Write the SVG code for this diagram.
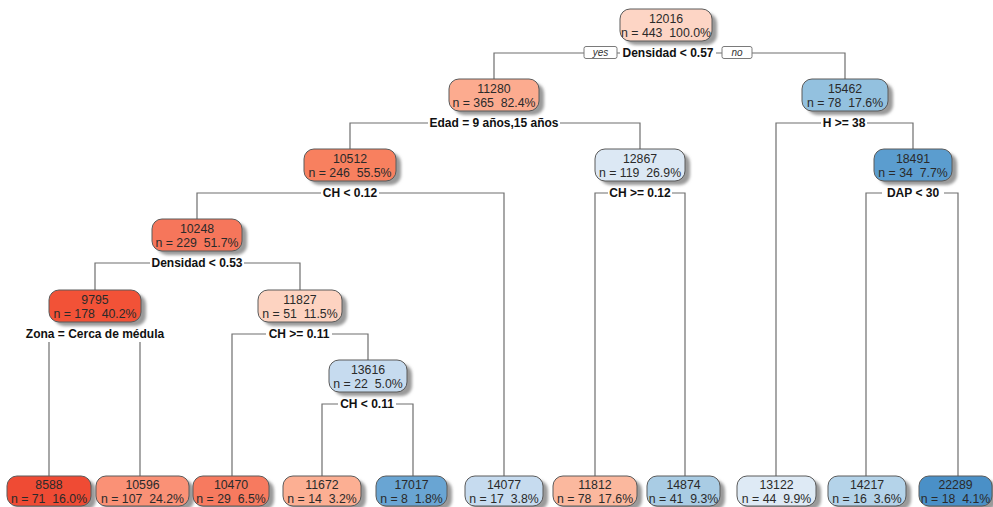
<svg xmlns="http://www.w3.org/2000/svg" width="993" height="507" viewBox="0 0 993 507">
<defs>
<filter id="blur" x="-20%" y="-20%" width="140%" height="140%"><feGaussianBlur stdDeviation="1.6"/></filter>
</defs>
<style>
.sh{fill:#9a9a9a;filter:url(#blur)}
.box{stroke:#5a5a5a;stroke-width:1}
.v,.n{font-family:"Liberation Sans",Arial,sans-serif;font-size:12.3px;fill:#2a2a2a;text-anchor:middle;white-space:pre}
.edge{fill:none;stroke:#6e6e6e;stroke-width:1.2}
.lb{fill:#ffffff}
.lt{font-family:"Liberation Sans",Arial,sans-serif;font-size:12px;font-weight:bold;fill:#111;text-anchor:middle}
.yn{fill:#fff;stroke:#7a7a7a;stroke-width:1}
.ynt{font-family:"Liberation Sans",Arial,sans-serif;font-size:10px;font-style:italic;fill:#333;text-anchor:middle}
</style>
<rect width="993" height="507" fill="#ffffff"/>
<g id="connectors">
<path class="edge" d="M494 79V53H845V79"/>
<path class="edge" d="M350 149V123H640V149"/>
<path class="edge" d="M776 476V123H913V149"/>
<path class="edge" d="M197 219V193H504V476"/>
<path class="edge" d="M595 476V193H685V476"/>
<path class="edge" d="M866 476V193H958V476"/>
<path class="edge" d="M95 290V263H300V290"/>
<path class="edge" d="M49 476V334H140V476"/>
<path class="edge" d="M232 476V334H368V360"/>
<path class="edge" d="M322 476V404H413V476"/>
<rect class="yn" x="584" y="46.5" width="33" height="12" rx="2"/>
<text class="ynt" x="600.5" y="56">yes</text>
<rect class="yn" x="722" y="46.5" width="30" height="12" rx="2"/>
<text class="ynt" x="737" y="56">no</text>
</g>
<g id="splits">
<rect class="lb" x="620" y="45" width="96" height="16"/><text class="lt" x="668" y="57">Densidad &lt; 0.57</text>
<rect class="lb" x="428" y="115" width="132" height="16"/><text class="lt" x="494" y="127">Edad = 9 años,15 años</text>
<rect class="lb" x="821" y="115" width="46" height="16"/><text class="lt" x="844" y="127">H &gt;= 38</text>
<rect class="lb" x="321" y="185" width="58" height="16"/><text class="lt" x="350" y="197">CH &lt; 0.12</text>
<rect class="lb" x="608" y="185" width="64" height="16"/><text class="lt" x="640" y="197">CH &gt;= 0.12</text>
<rect class="lb" x="882" y="185" width="62" height="16"/><text class="lt" x="913" y="197">DAP &lt; 30</text>
<rect class="lb" x="150" y="255" width="94" height="16"/><text class="lt" x="197" y="267">Densidad &lt; 0.53</text>
<rect class="lb" x="25" y="326" width="140" height="16"/><text class="lt" x="95" y="338">Zona = Cerca de médula</text>
<rect class="lb" x="266" y="326" width="66" height="16"/><text class="lt" x="299" y="338">CH &gt;= 0.11</text>
<rect class="lb" x="338" y="396" width="58" height="16"/><text class="lt" x="367" y="408">CH &lt; 0.11</text>
</g>
<g id="node-12016"><rect class="sh" x="625" y="13" width="92" height="32" rx="10"/><rect class="box" x="620" y="9" width="92" height="32" rx="10" fill="#fdd5c5"/><text class="v" x="666" y="23">12016</text><text class="n" x="666" y="37">n = 443  100.0%</text></g>
<g id="node-11280"><rect class="sh" x="454" y="83" width="90" height="32" rx="10"/><rect class="box" x="449" y="79" width="90" height="32" rx="10" fill="#fcab8f"/><text class="v" x="494" y="93">11280</text><text class="n" x="494" y="107">n = 365  82.4%</text></g>
<g id="node-15462"><rect class="sh" x="807" y="83" width="86" height="32" rx="10"/><rect class="box" x="802" y="79" width="86" height="32" rx="10" fill="#93c1df"/><text class="v" x="845" y="93">15462</text><text class="n" x="845" y="107">n = 78  17.6%</text></g>
<g id="node-10512"><rect class="sh" x="309" y="153" width="92" height="32" rx="10"/><rect class="box" x="304" y="149" width="92" height="32" rx="10" fill="#f8805f"/><text class="v" x="350" y="163">10512</text><text class="n" x="350" y="177">n = 246  55.5%</text></g>
<g id="node-12867"><rect class="sh" x="600" y="153" width="90" height="32" rx="10"/><rect class="box" x="595" y="149" width="90" height="32" rx="10" fill="#dce8f4"/><text class="v" x="640" y="163">12867</text><text class="n" x="640" y="177">n = 119  26.9%</text></g>
<g id="node-18491"><rect class="sh" x="879" y="153" width="78" height="32" rx="10"/><rect class="box" x="874" y="149" width="78" height="32" rx="10" fill="#5b9dcf"/><text class="v" x="913" y="163">18491</text><text class="n" x="913" y="177">n = 34  7.7%</text></g>
<g id="node-10248"><rect class="sh" x="157" y="223" width="90" height="32" rx="10"/><rect class="box" x="152" y="219" width="90" height="32" rx="10" fill="#f6765b"/><text class="v" x="197" y="233">10248</text><text class="n" x="197" y="247">n = 229  51.7%</text></g>
<g id="node-9795"><rect class="sh" x="54" y="294" width="92" height="32" rx="10"/><rect class="box" x="49" y="290" width="92" height="32" rx="10" fill="#f25237"/><text class="v" x="95" y="304">9795</text><text class="n" x="95" y="318">n = 178  40.2%</text></g>
<g id="node-11827"><rect class="sh" x="263" y="294" width="84" height="32" rx="10"/><rect class="box" x="258" y="290" width="84" height="32" rx="10" fill="#fdd3c1"/><text class="v" x="300" y="304">11827</text><text class="n" x="300" y="318">n = 51  11.5%</text></g>
<g id="node-13616"><rect class="sh" x="334" y="364" width="78" height="32" rx="10"/><rect class="box" x="329" y="360" width="78" height="32" rx="10" fill="#c6dbef"/><text class="v" x="368" y="374">13616</text><text class="n" x="368" y="388">n = 22  5.0%</text></g>
<g id="leaf-8588"><rect class="sh" x="12" y="480" width="84" height="30" rx="10"/><rect class="box" x="7" y="476" width="84" height="30" rx="10" fill="#ef4b34"/><text class="v" x="49" y="489">8588</text><text class="n" x="49" y="503">n = 71  16.0%</text></g>
<g id="leaf-10596"><rect class="sh" x="101" y="480" width="93" height="30" rx="10"/><rect class="box" x="96" y="476" width="93" height="30" rx="10" fill="#fa9176"/><text class="v" x="142.5" y="489">10596</text><text class="n" x="142.5" y="503">n = 107  24.2%</text></g>
<g id="leaf-10470"><rect class="sh" x="198" y="480" width="76" height="30" rx="10"/><rect class="box" x="193" y="476" width="76" height="30" rx="10" fill="#f77a5f"/><text class="v" x="231" y="489">10470</text><text class="n" x="231" y="503">n = 29  6.5%</text></g>
<g id="leaf-11672"><rect class="sh" x="288" y="480" width="78" height="30" rx="10"/><rect class="box" x="283" y="476" width="78" height="30" rx="10" fill="#fcaf93"/><text class="v" x="322" y="489">11672</text><text class="n" x="322" y="503">n = 14  3.2%</text></g>
<g id="leaf-17017"><rect class="sh" x="381" y="480" width="71" height="30" rx="10"/><rect class="box" x="376" y="476" width="71" height="30" rx="10" fill="#69a5d3"/><text class="v" x="411.5" y="489">17017</text><text class="n" x="411.5" y="503">n = 8  1.8%</text></g>
<g id="leaf-14077"><rect class="sh" x="470" y="480" width="78" height="30" rx="10"/><rect class="box" x="465" y="476" width="78" height="30" rx="10" fill="#c6dbef"/><text class="v" x="504" y="489">14077</text><text class="n" x="504" y="503">n = 17  3.8%</text></g>
<g id="leaf-11812"><rect class="sh" x="558" y="480" width="84" height="30" rx="10"/><rect class="box" x="553" y="476" width="84" height="30" rx="10" fill="#fbb89e"/><text class="v" x="595" y="489">11812</text><text class="n" x="595" y="503">n = 78  17.6%</text></g>
<g id="leaf-14874"><rect class="sh" x="652" y="480" width="73" height="30" rx="10"/><rect class="box" x="647" y="476" width="73" height="30" rx="10" fill="#a9cce4"/><text class="v" x="683.5" y="489">14874</text><text class="n" x="683.5" y="503">n = 41  9.3%</text></g>
<g id="leaf-13122"><rect class="sh" x="742" y="480" width="79" height="30" rx="10"/><rect class="box" x="737" y="476" width="79" height="30" rx="10" fill="#deeaf5"/><text class="v" x="776.5" y="489">13122</text><text class="n" x="776.5" y="503">n = 44  9.9%</text></g>
<g id="leaf-14217"><rect class="sh" x="833" y="480" width="78" height="30" rx="10"/><rect class="box" x="828" y="476" width="78" height="30" rx="10" fill="#b4d3e9"/><text class="v" x="867" y="489">14217</text><text class="n" x="867" y="503">n = 16  3.6%</text></g>
<g id="leaf-22289"><rect class="sh" x="924" y="480" width="73" height="30" rx="10"/><rect class="box" x="919" y="476" width="73" height="30" rx="10" fill="#4a90c7"/><text class="v" x="955.5" y="489">22289</text><text class="n" x="955.5" y="503">n = 18  4.1%</text></g>
</svg>
